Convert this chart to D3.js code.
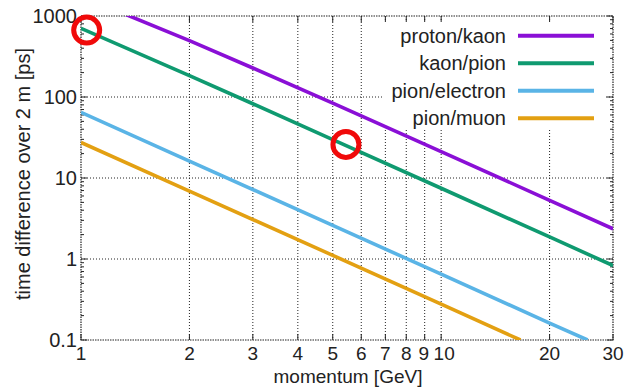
<!DOCTYPE html>
<html lang="en">
  <head>
    <meta charset="utf-8" />
    <title>Time difference over 2 m</title>
    <script src="https://d3js.org/d3.v7.min.js"></script>
    <style>
      body { margin: 0; background: #fff; }
      text { font-family: "Liberation Sans", Arial, sans-serif; fill: #222; }
    </style>
  </head>
  <body>
    <div id="chart"></div>
    <script>
      // momentum [GeV] sample points and time difference [ps]
      var protonKaonP = [1.3, 2, 3, 5, 10, 20, 30];
      var protonKaonT = [1090, 497, 228, 84, 21.2, 5.3, 2.36];
      var kaonPionP = [1, 2, 3, 5, 10, 20, 30];
      var kaonPionT = [704, 184, 82.5, 29.8, 7.47, 1.87, 0.83];
      var pionElectronP = [1, 2, 5, 10, 20, 25.5];
      var pionElectronT = [64.6, 16.2, 2.6, 0.65, 0.162, 0.1];
      var pionMuonP = [1, 2, 5, 10, 16.6];
      var pionMuonT = [27.5, 6.9, 1.11, 0.277, 0.1];

      var seriesNames = ["proton/kaon", "kaon/pion", "pion/electron", "pion/muon"];
      var seriesColors = ["#8a0fd6", "#0f9a70", "#5ab4e6", "#e3a012"];

      var xTicks = [1, 2, 3, 4, 5, 6, 7, 8, 9, 10, 20, 30];
      var yTicks = [0.1, 1, 10, 100, 1000];

      // red markers (momentum, time difference)
      var markerP = [1.037, 5.44];
      var markerT = [670, 26];

      var series = [
        { p: protonKaonP, t: protonKaonT },
        { p: kaonPionP, t: kaonPionT },
        { p: pionElectronP, t: pionElectronT },
        { p: pionMuonP, t: pionMuonT },
      ];

      var width = 625, height = 388;
      var margin = { top: 16, right: 12, bottom: 48, left: 81 };
      var w = width - margin.left - margin.right;
      var h = height - margin.top - margin.bottom;

      var svg = d3.select("#chart").append("svg")
        .attr("width", width).attr("height", height);
      var g = svg.append("g")
        .attr("transform", "translate(" + margin.left + "," + margin.top + ")");

      var x = d3.scaleLog().domain([1, 30]).range([0, w]);
      var y = d3.scaleLog().domain([0.1, 1000]).range([h, 0]);

      // grid
      g.selectAll(".gx").data(xTicks.slice(1, -1)).enter().append("line")
        .attr("x1", d => x(d)).attr("x2", d => x(d))
        .attr("y1", 0).attr("y2", h)
        .attr("stroke", "#222").attr("stroke-width", 1)
        .attr("stroke-dasharray", "1,2");
      g.selectAll(".gy").data(yTicks.slice(1, -1)).enter().append("line")
        .attr("x1", 0).attr("x2", w)
        .attr("y1", d => y(d)).attr("y2", d => y(d))
        .attr("stroke", "#222").attr("stroke-width", 1)
        .attr("stroke-dasharray", "1,2");

      // minor y ticks on left and right
      var minorY = [];
      yTicks.slice(0, -1).forEach(function (d) {
        for (var k = 2; k <= 9; k++) minorY.push(d * k);
      });
      [0, w].forEach(function (xx, side) {
        var dir = side === 0 ? 1 : -1;
        g.selectAll(null).data(minorY).enter().append("line")
          .attr("x1", xx).attr("x2", xx + dir * 3)
          .attr("y1", d => y(d)).attr("y2", d => y(d))
          .attr("stroke", "#222");
        g.selectAll(null).data(yTicks).enter().append("line")
          .attr("x1", xx).attr("x2", xx + dir * 6)
          .attr("y1", d => y(d)).attr("y2", d => y(d))
          .attr("stroke", "#222");
      });
      // x ticks on bottom and top
      [h, 0].forEach(function (yy, side) {
        var dir = side === 0 ? -1 : 1;
        g.selectAll(null).data(xTicks).enter().append("line")
          .attr("x1", d => x(d)).attr("x2", d => x(d))
          .attr("y1", yy).attr("y2", yy + dir * 6)
          .attr("stroke", "#222");
      });

      // white legend box hides the grid behind the key
      g.append("rect")
        .attr("x", 302).attr("y", 6)
        .attr("width", 222).attr("height", 108)
        .attr("fill", "#fff");

      // border (dotted as in the reference)
      g.append("rect")
        .attr("width", w).attr("height", h)
        .attr("fill", "none").attr("stroke", "#222")
        .attr("stroke-width", 1.2).attr("stroke-dasharray", "1.5,1");

      // tick labels
      g.selectAll(".xl").data(xTicks).enter().append("text")
        .attr("x", d => x(d) + (d === 9 ? -1 : d === 10 ? 3 : 0))
        .attr("y", h + 20)
        .attr("text-anchor", "middle")
        .attr("font-size", 19)
        .text(d => d);
      g.selectAll(".yl").data(yTicks).enter().append("text")
        .attr("x", -4).attr("y", d => y(d) + 7)
        .attr("text-anchor", "end")
        .attr("font-size", 20)
        .text(d => d);

      // axis titles
      svg.append("text")
        .attr("x", 348).attr("y", 383)
        .attr("text-anchor", "middle").attr("font-size", 19)
        .text("momentum [GeV]");
      svg.append("text")
        .attr("transform", "translate(30,174) rotate(-90)")
        .attr("text-anchor", "middle").attr("font-size", 20)
        .text("time difference over 2 m [ps]");

      // lines
      g.append("clipPath").attr("id", "clip")
        .append("rect").attr("width", w).attr("height", h);
      var line = d3.line().x(d => x(d[0])).y(d => y(d[1]));
      g.append("g").attr("clip-path", "url(#clip)")
        .selectAll("path").data(series).enter().append("path")
        .attr("d", d => line(d.p.map((p, i) => [p, d.t[i]])))
        .attr("fill", "none")
        .attr("stroke", (d, i) => seriesColors[i])
        .attr("stroke-width", 3.6);

      // legend
      var legend = g.selectAll(".legend").data(seriesNames).enter().append("g")
        .attr("transform", (d, i) => "translate(0," + (19.7 + i * 27.5) + ")");
      legend.append("text")
        .attr("x", 425).attr("y", 7)
        .attr("text-anchor", "end").attr("font-size", 20)
        .text(d => d);
      legend.append("line")
        .attr("x1", 437).attr("x2", 513)
        .attr("stroke", (d, i) => seriesColors[i])
        .attr("stroke-width", 4);

      // red circles
      g.selectAll(".mark").data(markerP).enter().append("circle")
        .attr("cx", d => x(d))
        .attr("cy", (d, i) => y(markerT[i]))
        .attr("r", 13)
        .attr("fill", "none")
        .attr("stroke", "#f00a0a")
        .attr("stroke-width", 5);
    </script>
  </body>
</html>
